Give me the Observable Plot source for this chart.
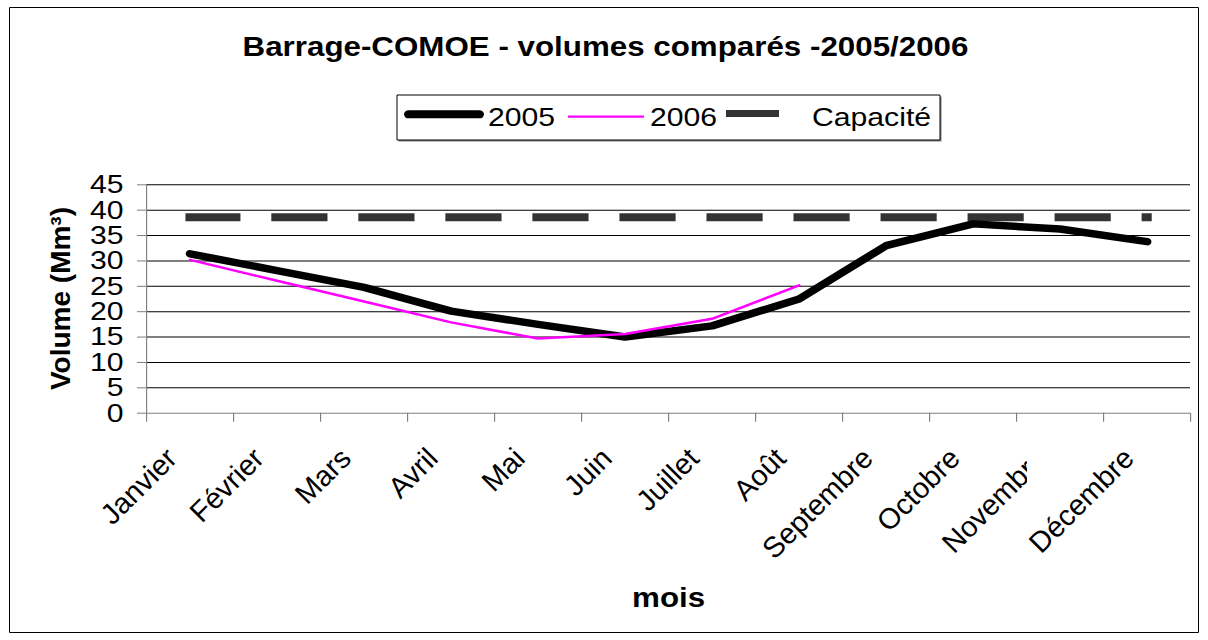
<!DOCTYPE html>
<html>
<head>
<meta charset="utf-8">
<script src="https://cdn.jsdelivr.net/npm/d3@7"></script>
<script src="https://cdn.jsdelivr.net/npm/@observablehq/plot@0.6"></script>
<style>
  html, body { margin: 0; padding: 0; background: #fff; }
  #chart { width: 1208px; height: 640px; overflow: hidden; }
</style>
</head>
<body>
<div id="chart"></div>
<script>
// ---- data ----
const months = ["Janvier", "Février", "Mars", "Avril", "Mai", "Juin", "Juillet", "Août", "Septembre", "Octobre", "Novembre", "Décembre"];
const vol2005 = [31.4, 28.1, 24.8, 20.1, 17.5, 15.0, 17.2, 22.5, 33.0, 37.3, 36.3, 33.8];
const vol2006 = [30.2, 26.1, 22.0, 17.9, 14.7, 15.6, 18.6, 25.2];
const capacite = 38.6;
const yTicks = [0, 5, 10, 15, 20, 25, 30, 35, 40, 45];
const seriesNames = ["2005", "2006", "Capacité"];
const titleText = "Barrage-COMOE - volumes comparés -2005/2006";
const xLabelText = "mois";
const yLabelText = "Volume (Mm³)";

// ---- layout (drawing is stretched horizontally like the original) ----
const SW = 1208, SH = 640, W = 1041;
const K = SW / W;
const px = x => x / K;
const FONT = "'Liberation Sans', Arial, Helvetica, sans-serif";

const d2005 = vol2005.map((v, i) => ({x: i + 0.5, y: v}));
const d2006 = vol2006.map((v, i) => ({x: i + 0.5, y: v}));
const dCap = months.map((m, i) => ({x: i + 0.5, y: capacite}));

const svg = Plot.plot({
  width: W,
  height: SH,
  marginLeft: px(146),
  marginRight: W - px(1190),
  marginTop: 184.3,
  marginBottom: SH - 412.7,
  style: {fontFamily: FONT, fontSize: "26px", background: "white", color: "black", overflow: "visible"},
  x: {type: "linear", domain: [0, 12]},
  y: {domain: [0, 45]},
  marks: [
    Plot.ruleY(yTicks.filter(d => d > 0), {stroke: "#000", strokeWidth: 1}),
    Plot.line(dCap, {x: "x", y: "y", stroke: "#333333", strokeWidth: 8, strokeDasharray: "40.4,34.6", strokeDashoffset: 1, strokeLinecap: "square"}),
    Plot.line(d2005, {x: "x", y: "y", stroke: "#000", strokeWidth: 7.5, strokeLinecap: "round", strokeLinejoin: "round"}),
    Plot.line(d2006, {x: "x", y: "y", stroke: "#FF00FF", strokeWidth: 2.5}),
    Plot.ruleX([0], {stroke: "#808080", strokeWidth: 1}),
    Plot.ruleY([0], {stroke: "#808080", strokeWidth: 1}),
    Plot.axisY(yTicks, {tickSize: 7.8, tickPadding: 12, fontSize: 26, stroke: "#808080", fill: "black", label: null}),
    Plot.axisX(d3.range(13), {tickSize: 9, tickFormat: () => "", stroke: "#808080", label: null}),
    Plot.axisX(months.map((m, i) => i + 0.5), {
      tickSize: 0, tickPadding: 47, dx: px(-11.4), tickRotate: -45, textAnchor: "end", lineAnchor: "bottom",
      tickFormat: d => months[Math.floor(d)], fontSize: 29, fill: "black", label: null
    }),
    Plot.text([xLabelText], {frameAnchor: "bottom", dy: 606 - 412.7, lineAnchor: "bottom", fontWeight: "bold", fontSize: 27, fill: "black"})
  ]
});

svg.setAttribute("width", SW);
svg.setAttribute("height", SH);
svg.setAttribute("viewBox", `0 0 ${W} ${SH}`);
svg.setAttribute("preserveAspectRatio", "none");
svg.style.width = SW + "px";
svg.style.height = SH + "px";
svg.style.maxWidth = "none";
document.getElementById("chart").appendChild(svg);

const s = d3.select(svg);

// rotated month labels are not stretched in the original: undo the stretch locally
Array.from(svg.querySelectorAll("text"))
  .filter(t => months.includes(t.textContent))
  .forEach(t => {
    const tr = t.getAttribute("transform") || "";
    if (tr.includes("rotate(")) t.setAttribute("transform", tr.replace("rotate(", `scale(${1 / K},1) rotate(`));
  });

// outer frame
s.insert("rect", ":first-child")
  .attr("x", px(9.5)).attr("y", 7.5)
  .attr("width", px(1198.5) - px(9.5)).attr("height", 625)
  .attr("fill", "none").attr("stroke", "#000").attr("stroke-width", 1)
  .attr("vector-effect", "non-scaling-stroke");

// title
s.append("text")
  .attr("x", px(605.5)).attr("y", 56)
  .attr("text-anchor", "middle")
  .attr("font-family", FONT).attr("font-size", 27).attr("font-weight", "bold")
  .attr("fill", "#000")
  .text(titleText);

// y label (not stretched in original)
const gy = s.append("g").attr("transform", `translate(${px(70)},298.5) scale(${1 / K},1)`);
gy.append("text")
  .attr("transform", "rotate(-90)")
  .attr("text-anchor", "middle")
  .attr("font-family", FONT).attr("font-size", 28).attr("font-weight", "bold")
  .attr("fill", "#000")
  .text(yLabelText);

// legend
const lg = s.append("g").attr("text-anchor", "start");
lg.append("rect")
  .attr("x", px(398.5)).attr("y", 96.5)
  .attr("width", px(940) - px(397)).attr("height", 45)
  .attr("fill", "#808080");
lg.append("rect")
  .attr("x", px(397)).attr("y", 95)
  .attr("width", px(940) - px(397)).attr("height", 45)
  .attr("fill", "#fff").attr("stroke", "#000").attr("stroke-width", 1)
  .attr("vector-effect", "non-scaling-stroke");
lg.append("line")
  .attr("x1", px(404) + 4).attr("x2", px(484) - 4).attr("y1", 114.3).attr("y2", 114.3)
  .attr("stroke", "#000").attr("stroke-width", 8).attr("stroke-linecap", "round");
lg.append("line")
  .attr("x1", px(568)).attr("x2", px(644)).attr("y1", 116.7).attr("y2", 116.7)
  .attr("stroke", "#FF00FF").attr("stroke-width", 2.2);
lg.append("rect")
  .attr("x", px(726)).attr("y", 110).attr("width", px(779) - px(726)).attr("height", 7)
  .attr("fill", "#333333");
const legX = [488, 650, 812];
seriesNames.forEach((n, i) => {
  lg.append("text")
    .attr("x", px(legX[i])).attr("y", 126)
    .attr("text-anchor", "start")
    .attr("font-family", FONT).attr("font-size", 26).attr("fill", "#000")
    .text(n);
});

// clip the "Novembre" tick label as in the original
const labels = Array.from(svg.querySelectorAll("text")).filter(t => t.textContent === "Novembre");
if (labels.length) {
  const t = labels[0];
  const parent = t.parentNode;
  let e = 0;
  const tb = parent.transform && parent.transform.baseVal.consolidate();
  if (tb) e = tb.matrix.e;
  const defs = s.append("defs");
  defs.append("clipPath").attr("id", "novclip")
    .append("rect").attr("x", -2000).attr("y", -2000)
    .attr("width", 2000 + px(1027) - e).attr("height", 6000);
  const wrap = document.createElementNS("http://www.w3.org/2000/svg", "g");
  wrap.setAttribute("clip-path", "url(#novclip)");
  parent.insertBefore(wrap, t);
  wrap.appendChild(t);
}
</script>
</body>
</html>
